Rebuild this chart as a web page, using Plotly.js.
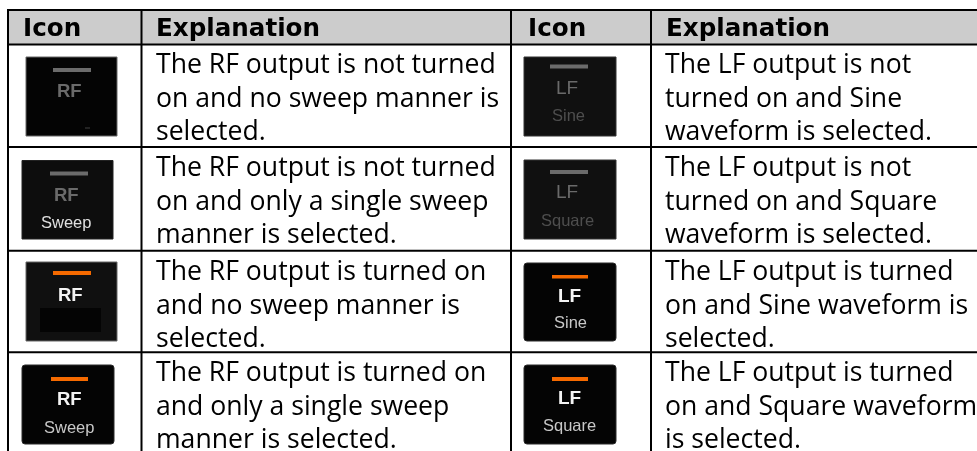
<!DOCTYPE html>
<html><head><meta charset="utf-8">
<script src="https://cdn.plot.ly/plotly-3.0.1.min.js"></script>
<style>html,body{margin:0;padding:0;background:#fff}#c{width:977px;height:451px;filter:blur(0.35px)}</style>
</head><body><div id="c"></div>
<script>
const headers = ["Icon","Explanation","Icon","Explanation"];
const leftText = [
 ["The RF output is not turned","on and no sweep manner is","selected."],
 ["The RF output is not turned","on and only a single sweep","manner is selected."],
 ["The RF output is turned on","and no sweep manner is","selected."],
 ["The RF output is turned on","and only a single sweep","manner is selected."]];
const rightText = [
 ["The LF output is not","turned on and Sine","waveform is selected."],
 ["The LF output is not","turned on and Square","waveform is selected."],
 ["The LF output is turned","on and Sine waveform is","selected."],
 ["The LF output is turned","on and Square waveform","is selected."]];
const iconTop = ["RF","RF","RF","RF","LF","LF","LF","LF"];
const iconSub = ["","Sweep","","Sweep","Sine","Square","Sine","Square"];
const iconOn  = [false,false,true,true,false,false,true,true];

// page geometry, in pixels
const geo = [
 {x:26,y:57,w:91,h:79,bar:[53,91,68,72],top:[69.5,90],sub:null,edge:"#666",r:0,mark:[85,90,127,129]},
 {x:22,y:160.5,w:91,h:78.5,bar:[50,88,171.5,175.5],top:[66,194],sub:[66,221.5],edge:"#222",r:0},
 {x:26,y:262,w:91,h:79,bar:[53,91,271,275],top:[70.5,294],sub:null,edge:"#666",r:0,inner:[40,101,308,332]},
 {x:22,y:365,w:92,h:79,bar:[51,88,377,381],top:[69,398],sub:[68.5,426.5],edge:"#2a2a2a",r:3},
 {x:524,y:57,w:92,h:79,bar:[550,588,64.5,68.5],top:[567,87],sub:[568.5,114.5],edge:"#333",r:0},
 {x:524,y:160,w:92,h:79,bar:[550,588,170,174],top:[567,191.5],sub:[567,220],edge:"#333",r:0},
 {x:524,y:263,w:92,h:78,bar:[552,588,275,278.5],top:[569.5,295],sub:[570,322],edge:"#2a2a2a",r:3},
 {x:524,y:365,w:92,h:79,bar:[552,588,377,381],top:[569.5,397],sub:[569,425],edge:"#2a2a2a",r:3}];
const vLines = [8,141.5,511,651];
const hLines = [10,44.5,147,250.7,352.3];
const rowTops = [44,147,251,352];

const bodyFont = "Open Sans, Noto Sans, sans-serif";
const headFont = "DejaVu Sans, Verdana, sans-serif";
const iconFont = "Liberation Sans, Arial, sans-serif";
const shapes=[], annotations=[];
shapes.push({type:"rect",x0:8,x1:977,y0:10,y1:44.5,fillcolor:"#cccccc",line:{width:0},layer:"below"});
vLines.forEach(x=>shapes.push({type:"line",x0:x,x1:x,y0:9,y1:451,line:{color:"#000",width:2}}));
hLines.forEach(y=>shapes.push({type:"line",x0:7,x1:977,y0:y,y1:y,line:{color:"#000",width:2}}));

function txt(t,x,y,size,color,font,anchor,bold){
  annotations.push({text:bold?"<b>"+t+"</b>":t,x,y,xref:"x",yref:"y",showarrow:false,xanchor:anchor,yanchor:"middle",
    font:{family:font,size,color},align:anchor});
}
[21,153.5,526,663.5].forEach((x,i)=>txt(headers[i],x,27.5,24.6,"#000",headFont,"left",true));
function col(lines,x){ lines.forEach((r,i)=>r.forEach((l,j)=>txt(l,x,rowTops[i]+19+j*33.5,26.6,"#000",bodyFont,"left"))); }
col(leftText,154); col(rightText,663);

geo.forEach((g,i)=>{
  const on=iconOn[i], x0=g.x,x1=g.x+g.w,y0=g.y,y1=g.y+g.h,r=g.r;
  const path=r?`M${x0+r},${y0}H${x1-r}Q${x1},${y0} ${x1},${y0+r}V${y1-r}Q${x1},${y1} ${x1-r},${y1}H${x0+r}Q${x0},${y1} ${x0},${y1-r}V${y0+r}Q${x0},${y0} ${x0+r},${y0}Z`
              :`M${x0},${y0}H${x1}V${y1}H${x0}Z`;
  shapes.push({type:"path",path,fillcolor:(i===2||i===4||i===5)?"#101010":(i===1?"#0d0d0d":"#040404"),line:{color:g.edge,width:1}});
  if(g.inner) shapes.push({type:"rect",x0:g.inner[0],x1:g.inner[1],y0:g.inner[2],y1:g.inner[3],fillcolor:"#040404",line:{width:0}});
  if(g.mark) shapes.push({type:"rect",x0:g.mark[0],x1:g.mark[1],y0:g.mark[2],y1:g.mark[3],fillcolor:"#222",line:{width:0}});
  shapes.push({type:"rect",x0:g.bar[0],x1:g.bar[1],y0:g.bar[2],y1:g.bar[3],fillcolor:on?"#f56a00":"#6b6b6b",line:{width:0}});
  const rf=iconTop[i]==="RF";
  txt(iconTop[i],g.top[0],g.top[1],rf?18.5:19,on?"#f4f4f4":"#6a6a6a",iconFont,"center",rf||on);
  if(g.sub) txt(iconSub[i],g.sub[0],g.sub[1],16.5,on?"#c8c8c8":(rf?"#e0e0e0":"#4e4e4e"),iconFont,"center");
});
Plotly.newPlot("c",[],{
  width:977,height:451,margin:{l:0,r:0,t:0,b:0},paper_bgcolor:"#fff",plot_bgcolor:"#fff",showlegend:false,
  xaxis:{range:[0,977],visible:false,fixedrange:true},
  yaxis:{range:[451,0],visible:false,fixedrange:true},
  shapes,annotations},{displayModeBar:false,staticPlot:true});
</script></body></html>
